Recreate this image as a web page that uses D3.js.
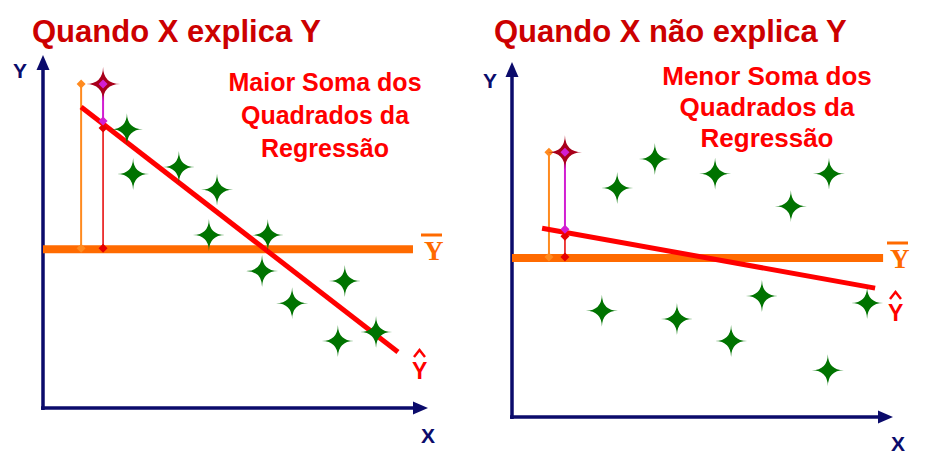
<!DOCTYPE html>
<html>
<head>
<meta charset="utf-8">
<script src="https://cdn.jsdelivr.net/npm/d3@7"></script>
<style>
  html, body { margin: 0; padding: 0; background: #fff; }
  svg { display: block; }
</style>
</head>
<body>
<svg id="chart" width="938" height="463"></svg>
<script>
// ---------------- DATA ----------------
const titles = ["Quando X explica Y", "Quando X não explica Y"];
const notesLeft = ["Maior Soma dos", "Quadrados da", "Regressão"];
const notesRight = ["Menor Soma dos", "Quadrados da", "Regressão"];

// Left panel (X explains Y): points in data units (0..10)
const leftX = [2.18, 2.34, 3.53, 4.52, 4.31, 5.84, 5.69, 6.47, 7.84, 7.66, 8.65];
const leftY = [7.90, 6.63, 6.83, 6.18, 4.90, 4.90, 3.88, 2.97, 3.60, 1.90, 2.15];
const leftMean = 4.50;
const leftFit = [9.36, -0.843];      // intercept, slope
const leftFitRange = [0.99, 9.22];
const leftHighlight = [1.56, 9.18];  // highlighted observation
const leftDevX = 0.99;               // x of the total-deviation segment

// Right panel (X does not explain Y)
const rightX = [2.36, 2.76, 3.75, 4.33, 5.33, 5.75, 6.56, 7.32, 8.32, 8.29, 9.32];
const rightY = [2.99, 6.45, 7.27, 2.76, 6.85, 2.14, 3.41, 5.94, 6.85, 1.32, 3.21];
const rightMean = 4.48;
const rightFit = [5.47, -0.193];
const rightFitRange = [0.79, 9.53];
const rightHighlight = [1.39, 7.46];
const rightDevX = 0.97;

// ---------------- DRAWING ----------------
const svg = d3.select("#chart");
const NAVY = "#0b0b6b", GREEN = "#007300", ORANGE = "#ff6a00", RED = "#ff0000";
const SANS = "'Liberation Sans', Arial, sans-serif";
const SERIF = "'Liberation Serif', 'Times New Roman', serif";

function starPath(r) {
  const c = r * 0.02;
  return `M0,${-r} Q${c},${-c} ${r},0 Q${c},${c} 0,${r} Q${-c},${c} ${-r},0 Q${-c},${-c} 0,${-r} Z`;
}
function diamond(g, x, y, color) {
  g.append("path").attr("d", "M0,-4.5L4.5,0L0,4.5L-4.5,0Z")
    .attr("transform", `translate(${x},${y})`).attr("fill", color);
}

function panel(cfg) {
  const x = d3.scaleLinear().domain([0, 10]).range(cfg.xr);
  const y = d3.scaleLinear().domain([0, 10]).range(cfg.yr);
  const g = svg.append("g");

  // title
  svg.append("text").attr("x", cfg.titlePos[0]).attr("y", cfg.titlePos[1])
    .attr("font-family", SANS).attr("font-weight", "bold").attr("font-size", 31)
    .attr("fill", "#cc0000").text(cfg.title);

  // annotation
  const note = svg.append("text").attr("text-anchor", "middle")
    .attr("font-family", SANS).attr("font-weight", "bold")
    .attr("font-size", cfg.noteSize).attr("fill", RED);
  cfg.notes.forEach((t, i) => {
    note.append("tspan").attr("x", cfg.notePos[0])
      .attr("y", cfg.notePos[1] + i * cfg.noteGap).text(t);
  });

  // axes
  const x0 = x(0), y0 = y(0), xEnd = x(10), yEnd = y(10);
  g.append("line").attr("x1", x0).attr("y1", y0 + 2).attr("x2", x0).attr("y2", yEnd + 12)
    .attr("stroke", NAVY).attr("stroke-width", 3.5);
  g.append("path").attr("d", `M${x0},${yEnd}L${x0 + 6.5},${yEnd + 15}L${x0 - 6.5},${yEnd + 15}Z`)
    .attr("fill", NAVY);
  g.append("line").attr("x1", x0 - 2).attr("y1", y0).attr("x2", xEnd - 12).attr("y2", y0)
    .attr("stroke", NAVY).attr("stroke-width", 3.5);
  g.append("path").attr("d", `M${xEnd},${y0}L${xEnd - 15},${y0 - 6.5}L${xEnd - 15},${y0 + 6.5}Z`)
    .attr("fill", NAVY);
  g.append("text").attr("x", cfg.yLab[0]).attr("y", cfg.yLab[1])
    .attr("font-family", SANS).attr("font-weight", "bold").attr("font-size", 21)
    .attr("fill", NAVY).text("Y");
  g.append("text").attr("x", cfg.xLab[0]).attr("y", cfg.xLab[1])
    .attr("font-family", SANS).attr("font-weight", "bold").attr("font-size", 21)
    .attr("fill", NAVY).text("X");

  // mean line
  const ym = y(cfg.mean);
  g.append("line").attr("x1", x0).attr("x2", x(cfg.meanEnd)).attr("y1", ym).attr("y2", ym)
    .attr("stroke", ORANGE).attr("stroke-width", 8);

  // Ybar label
  const lb = cfg.ybarLab;
  g.append("text").attr("x", lb[0]).attr("y", lb[1])
    .attr("font-family", SERIF).attr("font-weight", "bold").attr("font-size", 27)
    .attr("fill", ORANGE).text("Y");
  g.append("line").attr("x1", lb[0] - 3).attr("x2", lb[0] + 18).attr("y1", lb[1] - 25).attr("y2", lb[1] - 25)
    .attr("stroke", ORANGE).attr("stroke-width", 3);

  // deviation segments of highlighted point
  const [hx, hy] = cfg.highlight;
  const yhat = cfg.fit[0] + cfg.fit[1] * hx;
  const pxH = x(hx), pyH = y(hy), pyHat = y(yhat), pxD = x(cfg.devX);
  g.append("line").attr("x1", pxD).attr("x2", pxD).attr("y1", pyH).attr("y2", ym)
    .attr("stroke", "#ff8a1f").attr("stroke-width", 2);
  diamond(g, pxD, pyH, "#ff8a1f");
  diamond(g, pxD, ym - 1, "#ff8a1f");
  g.append("line").attr("x1", pxH).attr("x2", pxH).attr("y1", pyHat + 4).attr("y2", ym)
    .attr("stroke", "#e60000").attr("stroke-width", 1.5);
  diamond(g, pxH, ym - 1, "#e60000");

  // regression line
  const [fa, fb] = cfg.fit, [r0, r1] = cfg.fitRange;
  g.append("line").attr("x1", x(r0)).attr("y1", y(fa + fb * r0))
    .attr("x2", x(r1)).attr("y2", y(fa + fb * r1))
    .attr("stroke", RED).attr("stroke-width", 5);
  diamond(g, pxH, pyHat + 4, "#e60000");

  // Yhat label
  const lh = cfg.yhatLab;
  g.append("text").attr("x", lh[0]).attr("y", lh[1])
    .attr("font-family", SANS).attr("font-weight", "bold").attr("font-size", 23)
    .attr("fill", RED).text("Y");
  g.append("path").attr("d", `M${lh[0] + 2},${lh[1] - 22}L${lh[0] + 7.5},${lh[1] - 29}L${lh[0] + 13},${lh[1] - 22}`)
    .attr("fill", "none").attr("stroke", RED).attr("stroke-width", 2.5);

  // points
  g.selectAll("path.pt").data(cfg.px.map((v, i) => [v, cfg.py[i]])).join("path")
    .attr("class", "pt").attr("d", starPath(16))
    .attr("transform", d => `translate(${x(d[0])},${y(d[1])})`)
    .attr("fill", GREEN);

  // highlighted point and residual
  g.append("line").attr("x1", pxH).attr("x2", pxH).attr("y1", pyH).attr("y2", pyHat - 3)
    .attr("stroke", "#d21ed2").attr("stroke-width", 2);
  g.append("path").attr("d", starPath(17)).attr("transform", `translate(${pxH},${pyH})`)
    .attr("fill", "#a8001a");
  diamond(g, pxH, pyH, "#d21ed2");
  diamond(g, pxH, pyHat - 3, "#d21ed2");
}

panel({
  xr: [43, 428], yr: [408, 55],
  title: titles[0], titlePos: [32, 42],
  notes: notesLeft, notePos: [325, 91], noteGap: 33, noteSize: 25,
  px: leftX, py: leftY, mean: leftMean, meanEnd: 9.61,
  fit: leftFit, fitRange: leftFitRange, highlight: leftHighlight, devX: leftDevX,
  yLab: [13, 78], xLab: [421, 443], ybarLab: [424, 260], yhatLab: [412, 379]
});
panel({
  xr: [512, 893], yr: [417, 62],
  title: titles[1], titlePos: [494, 42],
  notes: notesRight, notePos: [767, 85], noteGap: 31, noteSize: 26,
  px: rightX, py: rightY, mean: rightMean, meanEnd: 9.74,
  fit: rightFit, fitRange: rightFitRange, highlight: rightHighlight, devX: rightDevX,
  yLab: [483, 88], xLab: [891, 451], ybarLab: [890, 268], yhatLab: [888, 321]
});
</script>
</body>
</html>
